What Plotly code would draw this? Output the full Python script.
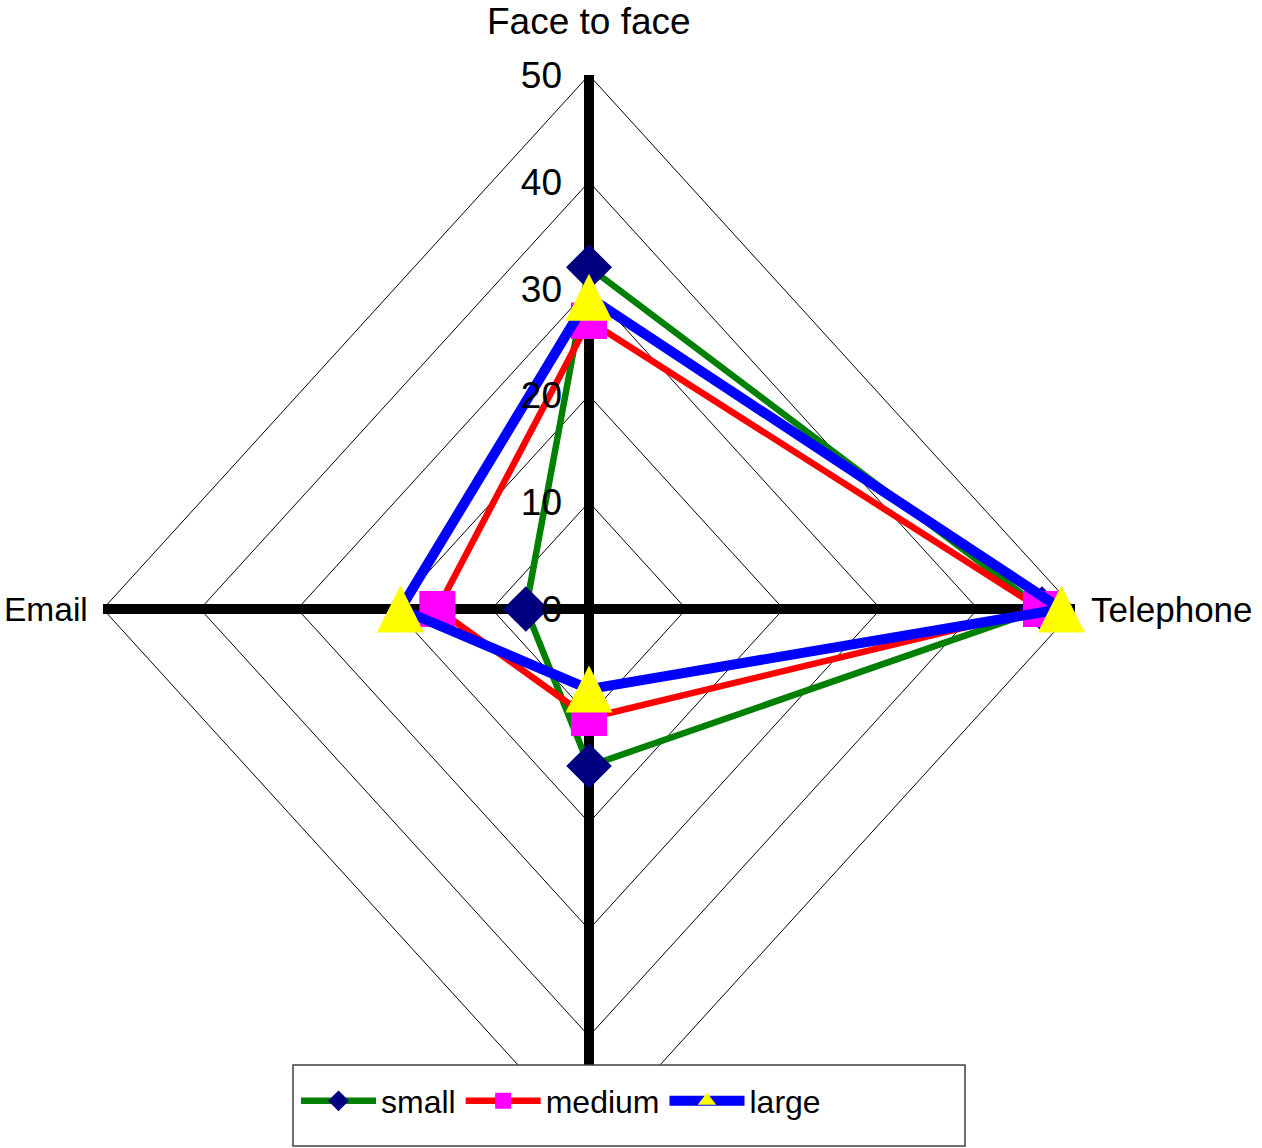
import plotly.graph_objects as go

# ---------------- data ----------------
axis_labels = ["Face to face", "Telephone", "", "Email"]   # bottom axis label is hidden by the legend
series_names = ["small", "medium", "large"]
small = [32.0, 46.6, 14.7, 6.5]
medium = [27.0, 46.5, 10.2, 15.6]
large = [29.2, 48.6, 7.5, 19.4]
tick_values = [0, 10, 20, 30, 40, 50]
tick_labels = ["0", "10", "20", "30", "40", "50"]
r_max = 50

# ---------------- geometry / style ----------------
W, H = 1262, 1148
CX, CY = 589, 609          # pixel centre of the radar
SX, SY = 9.72, 10.68       # pixels per value unit (horizontal / vertical)
ARROW = 47                 # triangle marker size (px)
DIRS = [(0, 1), (1, 0), (0, -1), (-1, 0)]   # Face to face, Telephone, bottom, Email

LABEL_FONT = "Liberation Sans, Arial, sans-serif"


def polar_xy(values):
    xs = [v * d[0] for v, d in zip(values, DIRS)]
    ys = [v * d[1] for v, d in zip(values, DIRS)]
    return xs + xs[:1], ys + ys[:1]


fig = go.Figure()

# grid rings (diamonds)
for t in tick_values[1:]:
    gx, gy = polar_xy([t] * 4)
    fig.add_trace(go.Scatter(x=gx, y=gy, mode="lines", line=dict(color="black", width=1),
                             hoverinfo="skip", showlegend=False))

# spokes
sx, sy = [], []
for d in DIRS:
    sx += [0, r_max * d[0], None]
    sy += [0, r_max * d[1], None]
fig.add_trace(go.Scatter(x=sx, y=sy, mode="lines", line=dict(color="black", width=10),
                         hoverinfo="skip", showlegend=False))

styles = [
    dict(line="#008000", lw=6.5, sym="diamond", ms=35, mc="#000080"),
    dict(line="#FF0000", lw=6.5, sym="square", ms=36, mc="#FF00FF"),
    dict(line="#0000FF", lw=10, sym="triangle-up", ms=24, mc="#FFFF00"),
]
for name, vals, st in zip(series_names, [small, medium, large], styles):
    px, py = polar_xy(vals)
    fig.add_trace(go.Scatter(
        x=px, y=py, name=name, mode="lines+markers",
        line=dict(color=st["line"], width=st["lw"]),
        marker=dict(symbol=st["sym"], size=st["ms"], color=st["mc"], line=dict(width=0)),
        cliponaxis=False,
    ))

# tall triangle markers for "large" (drawn on an overlay axis shifted so the shape is centred)
lx, ly = polar_xy(large)
fig.add_trace(go.Scatter(
    x=lx[:-1], y=ly[:-1], yaxis="y2", mode="markers", showlegend=False,
    marker=dict(symbol="arrow-up", size=ARROW, color="#FFFF00", line=dict(width=0)),
    cliponaxis=False, hoverinfo="skip",
))

# axis category labels
fig.add_annotation(x=0, y=r_max, text=axis_labels[0], showarrow=False, xanchor="center",
                   yanchor="bottom", yshift=31, font=dict(family=LABEL_FONT, size=37, color="black"))
fig.add_annotation(x=r_max, y=0, text=axis_labels[1], showarrow=False, xanchor="left",
                   yanchor="middle", xshift=14, font=dict(family=LABEL_FONT, size=35, color="black"))
fig.add_annotation(x=-r_max, y=0, text=axis_labels[3], showarrow=False, xanchor="right",
                   yanchor="middle", xshift=-13, font=dict(family=LABEL_FONT, size=33.5, color="black"))

yr = [-(H - CY) / SY, CY / SY]
shift = (ARROW / 2) / SY

fig.update_layout(
    template="none",
    width=W, height=H,
    margin=dict(l=0, r=0, t=0, b=0),
    paper_bgcolor="white", plot_bgcolor="white",
    xaxis=dict(range=[-CX / SX, (W - CX) / SX], visible=False, fixedrange=True, automargin=False),
    yaxis=dict(range=yr, anchor="free", position=CX / W, side="left",
               tickvals=tick_values, ticktext=tick_labels, ticks="",
               showgrid=False, zeroline=False, showline=False, automargin=False,
               ticklabelstandoff=27, fixedrange=True,
               tickfont=dict(family=LABEL_FONT, size=37, color="black")),
    yaxis2=dict(range=[yr[0] - shift, yr[1] - shift], overlaying="y", visible=False,
                fixedrange=True, automargin=False),
    showlegend=True,
    legend=dict(orientation="h", x=296 / W, xanchor="left", y=1 - 1101 / H, yanchor="middle",
                bgcolor="rgba(0,0,0,0)", borderwidth=0, itemwidth=75,
                font=dict(family=LABEL_FONT, size=32, color="black")),
    shapes=[dict(type="rect", xref="paper", yref="paper",
                 x0=293 / W, x1=965 / W, y0=1 - 1146 / H, y1=1 - 1065 / H,
                 fillcolor="white", line=dict(color="#404040", width=1.5), layer="above")],
)

fig.write_html("out.html",
               config={"displayModeBar": False},
               post_script="document.documentElement.style.margin='0';"
                           "document.body.style.margin='0';document.body.style.overflow='hidden';")
